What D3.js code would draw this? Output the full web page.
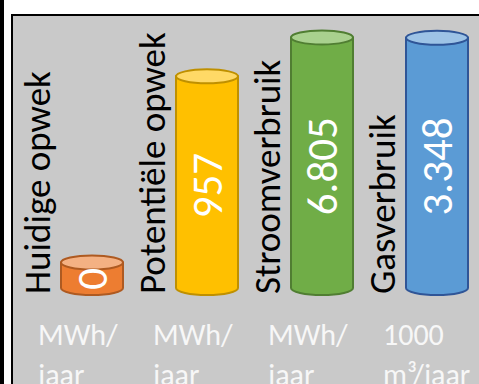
<!DOCTYPE html>
<html>
<head>
<meta charset="utf-8">
<script src="https://cdn.jsdelivr.net/npm/d3@7"></script>
<style>
    body { margin: 0; background: #fff; }
    svg { display: block; font-family: Carlito, Calibri, Lato, sans-serif; }
</style>
</head>
<body>
<div id="chart"></div>
<script>
// data
const categories = ["Huidige opwek", "Potentiële opwek", "Stroomverbruik", "Gasverbruik"];
const values = [0, 957, 6805, 3348];
// each cylinder was its own little chart, with its own axis maximum
const axisMax = [1, 1190, 7000, 3450];
const unitLines = [["MWh/", "jaar"], ["MWh/", "jaar"], ["MWh/", "jaar"], ["1000", "m³/jaar"]];

const colors = [
    { body: "#ed7d31", top: "#f4b183", line: "#ae5a21" },
    { body: "#ffc000", top: "#ffd966", line: "#bf9000" },
    { body: "#70ad47", top: "#a9d18e", line: "#507e32" },
    { body: "#5b9bd5", top: "#9dc3e6", line: "#2f5597" }
];

const width = 479, height = 384;
const base = 288;      // centre of the bottom ellipse
const minBody = 25.5;  // a zero value still shows a short cylinder
const ry = 7;

const nl = d3.formatLocale({ decimal: ",", thousands: ".", grouping: [3], currency: ["€", ""] });
const fmt = nl.format(",d");

const svg = d3.select("#chart").append("svg")
    .attr("width", width)
    .attr("height", height);

// frame
svg.append("rect")
    .attr("x", 0).attr("y", 0)
    .attr("width", 4).attr("height", height)
    .attr("fill", "#000");

svg.append("rect")
    .attr("x", 12).attr("y", 15)
    .attr("width", width + 10).attr("height", height + 10)
    .attr("fill", "#c9c9c9")
    .attr("stroke", "#000")
    .attr("stroke-width", 2);

// scales
const x = d3.scaleBand()
    .domain(categories)
    .range([23, 483]);

const barW = 62;

let g = svg.selectAll(".bar")
    .data(categories)
    .enter().append("g")
    .attr("class", "bar")
    .attr("transform", d => "translate(" + x(d) + ",0)");

g.each(function (d, i) {
    let sel = d3.select(this);
    let y = d3.scaleLinear()
        .domain([0, axisMax[i]])
        .range([base - minBody, 31]);

    let yTop = y(values[i]);
    let x0 = 38, x1 = x0 + barW, rx = barW / 2, cx = x0 + rx;

    // cylinder body
    sel.append("path")
        .attr("d", "M" + x0 + "," + yTop + "L" + x0 + "," + base +
            "A" + rx + "," + ry + " 0 0 0 " + x1 + "," + base +
            "L" + x1 + "," + yTop + "Z")
        .attr("fill", colors[i].body)
        .attr("stroke", colors[i].line)
        .attr("stroke-width", 2);

    // cylinder top
    sel.append("ellipse")
        .attr("cx", cx).attr("cy", yTop)
        .attr("rx", rx).attr("ry", ry)
        .attr("fill", colors[i].top)
        .attr("stroke", colors[i].line)
        .attr("stroke-width", 2);

    // value label inside
    sel.append("text")
        .attr("transform", "translate(" + cx + "," + ((yTop + ry + base) / 2) + ") rotate(-90)")
        .attr("text-anchor", "middle")
        .attr("dy", "0.36em")
        .attr("fill", "#fff")
        .style("font-size", "43px")
        .text(fmt(values[i]));

    // category label
    sel.append("text")
        .attr("transform", "translate(27,294) rotate(-90)")
        .attr("fill", "#000")
        .style("font-size", "37px")
        .text(d);

    // unit label
    sel.append("text")
        .attr("x", 15)
        .attr("y", 345)
        .attr("fill", "#f7f7f7")
        .style("font-size", "30px")
        .selectAll("tspan")
        .data(unitLines[i])
        .enter().append("tspan")
        .attr("x", 15)
        .attr("dy", (t, j) => j ? 40 : 0)
        .text(t => t);
});
</script>
</body>
</html>
